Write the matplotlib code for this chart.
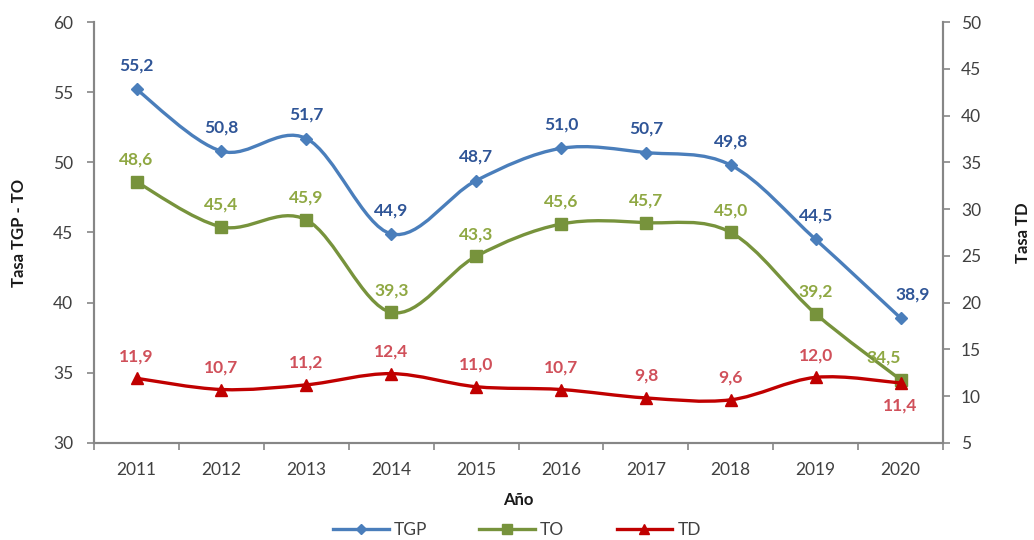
import matplotlib
matplotlib.use("Agg")
import matplotlib.pyplot as plt
from matplotlib.path import Path
from matplotlib.patches import PathPatch
from matplotlib.lines import Line2D

years = ["2011", "2012", "2013", "2014", "2015", "2016", "2017", "2018", "2019", "2020"]
tgp = [55.2, 50.8, 51.7, 44.9, 48.7, 51.0, 50.7, 49.8, 44.5, 38.9]
to = [48.6, 45.4, 45.9, 39.3, 43.3, 45.6, 45.7, 45.0, 39.2, 34.5]
td = [11.9, 10.7, 11.2, 12.4, 11.0, 10.7, 9.8, 9.6, 12.0, 11.4]

plt.rcParams['font.family'] = ['Lato', 'DejaVu Sans']

C_TGP = "#4A7EBB"
C_TO = "#77933C"
C_TD = "#C00000"
L_TGP = "#2F5597"
L_TO = "#8FA843"
L_TD = "#D0505A"
AX = "#868686"
TXT = "#404040"

fig = plt.figure(figsize=(10.34, 5.4), dpi=100)
ax = fig.add_axes([0.091, 0.180, 0.821, 0.779])
ax2 = ax.twinx()

def smooth_path(xs, ys):
    n = len(xs)
    verts = [(xs[0], ys[0])]
    codes = [Path.MOVETO]
    for i in range(n - 1):
        p0 = (xs[max(i - 1, 0)], ys[max(i - 1, 0)])
        p1 = (xs[i], ys[i])
        p2 = (xs[i + 1], ys[i + 1])
        p3 = (xs[min(i + 2, n - 1)], ys[min(i + 2, n - 1)])
        c1 = (p1[0] + (p2[0] - p0[0]) / 6, p1[1] + (p2[1] - p0[1]) / 6)
        c2 = (p2[0] - (p3[0] - p1[0]) / 6, p2[1] - (p3[1] - p1[1]) / 6)
        verts += [c1, c2, p2]
        codes += [Path.CURVE4] * 3
    return Path(verts, codes)

x = list(range(len(years)))

def draw(a, vals, color, marker, ms):
    a.add_patch(PathPatch(smooth_path(x, vals), facecolor="none", edgecolor=color, lw=2.4, zorder=3))
    a.plot(x, vals, linestyle="none", marker=marker, ms=ms, color=color, zorder=4)

draw(ax, tgp, C_TGP, "D", 6)
draw(ax, to, C_TO, "s", 8)
draw(ax2, td, C_TD, "^", 8)

fs = 12.5
for i, v in enumerate(tgp):
    dx = 9 if i == 9 else 0
    ax.annotate(f"{v:.1f}".replace(".", ","), (i, v), xytext=(dx, 17), textcoords="offset points",
                ha="center", va="center", color=L_TGP, fontsize=fs, fontweight="bold", zorder=5)
for i, v in enumerate(to):
    dx = -12 if i == 9 else 0
    ax.annotate(f"{v:.1f}".replace(".", ","), (i, v), xytext=(dx, 16), textcoords="offset points",
                ha="center", va="center", color=L_TO, fontsize=fs, fontweight="bold", zorder=5)
for i, v in enumerate(td):
    dy = -16 if i == 9 else 16
    ax2.annotate(f"{v:.1f}".replace(".", ","), (i, v), xytext=(0, dy), textcoords="offset points",
                 ha="center", va="center", color=L_TD, fontsize=fs, fontweight="bold", zorder=5)

ax.set_xlim(-0.5, 9.5)
ax.set_ylim(30, 60)
ax.set_yticks(range(30, 61, 5))
ax2.set_ylim(5, 50)
ax2.set_yticks(range(5, 51, 5))
ax.set_xticks(x)
ax.set_xticklabels(years)
ax.set_xticks([i + 0.5 for i in range(-1, 10)], minor=True)
ax.tick_params(axis="x", which="major", length=0, pad=14, labelsize=fs, labelcolor=TXT)
ax.tick_params(axis="x", which="minor", length=5, color=AX, width=1.2)
ax.tick_params(axis="y", length=5, color=AX, width=1.2, labelsize=fs, labelcolor=TXT, pad=10)
ax2.tick_params(axis="y", length=5, color=AX, width=1.2, labelsize=fs, labelcolor=TXT, pad=8)

for a in (ax, ax2):
    a.spines["top"].set_visible(False)
    for s in ("left", "right", "bottom"):
        a.spines[s].set_color(AX)
        a.spines[s].set_linewidth(1.5)

ax.set_xlabel("Año", fontsize=fs - 0.5, fontweight="bold", color="#1a1a1a")
ax.xaxis.set_label_coords(0.5, -0.117)
ax.set_ylabel("Tasa TGP - TO", fontsize=fs - 0.5, fontweight="bold", color="#1a1a1a",
              va="center", ha="center")
ax.yaxis.set_label_coords(-0.089, 0.5)
ax2.set_ylabel("Tasa TD", fontsize=fs - 0.5, fontweight="bold", color="#1a1a1a", rotation=90,
               va="center", ha="center")
ax2.yaxis.set_label_coords(1.094, 0.5)

handles = [
    Line2D([], [], color=C_TGP, lw=2.4, marker="D", ms=5),
    Line2D([], [], color=C_TO, lw=2.4, marker="s", ms=7),
    Line2D([], [], color=C_TD, lw=2.4, marker="^", ms=7),
]
fig.legend(handles, ["TGP", "TO", "TD"], loc="center", bbox_to_anchor=(0.5, 0.018), ncol=3,
           frameon=False, fontsize=fs, labelcolor=TXT, handlelength=3.2, columnspacing=3.0, handletextpad=0.3)

fig.savefig("out.png", dpi=100)
